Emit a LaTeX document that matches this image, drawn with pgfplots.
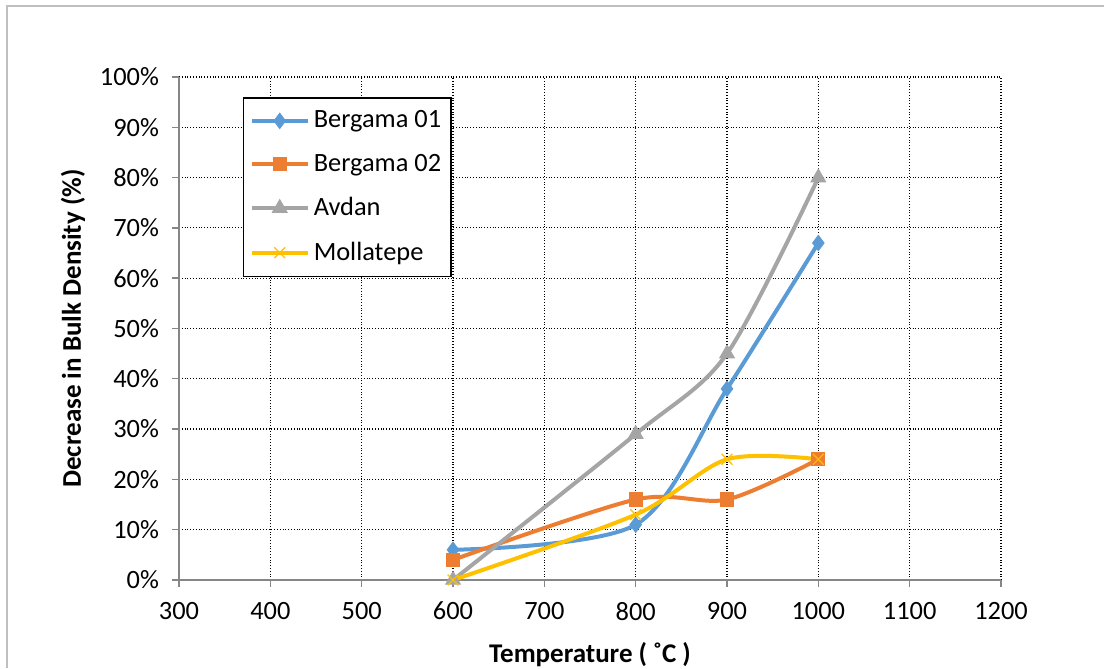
\documentclass[border=0pt]{standalone}
\usepackage{pgfplots}
\pgfplotsset{compat=1.18}
\usepackage{fontspec}
\setmainfont{Carlito}
\definecolor{cblue}{HTML}{5B9BD5}
\definecolor{corange}{HTML}{ED7D31}
\definecolor{cgray}{HTML}{A5A5A5}
\definecolor{cyellow}{HTML}{FFC000}
\definecolor{axgray}{HTML}{868686}
\definecolor{framegray}{HTML}{BFBFBF}
\begin{document}
\begin{tikzpicture}
\begin{axis}[
  scale only axis,
  width=411pt, height=251.5pt,
  xmin=300, xmax=1200, ymin=0, ymax=100,
  xtick={300,400,...,1200}, ytick={0,10,...,100},
  axis x line*=bottom, axis y line*=left,
  axis line style={axgray, line width=0.7pt, -},
  tick style={axgray, line width=0.7pt},
  tick align=outside, major tick length=3.5pt,
  grid=major,
  major grid style={black, densely dotted, line width=0.6pt},
  /pgf/number format/assume math mode=true,
  /pgf/number format/1000 sep={},
  ticklabel style={font=\fontsize{13.2}{15}\selectfont, text=black},
  yticklabel={\pgfmathprintnumber{\tick}\%},
  xticklabel style={yshift=-4pt},
  yticklabel style={xshift=-3pt},
  xlabel={\textbf{Temperature ( ˚C )}},
  ylabel={\textbf{Decrease in Bulk Density (\%)}},
  label style={font=\fontsize{13.5}{15}\selectfont},
  xlabel style={at={(rel axis cs:0.5,-0.149)}, anchor=center},
  ylabel style={at={(rel axis cs:-0.129,0.5)}, anchor=center},
  clip=false,
  legend style={at={(rel axis cs:0.0779,0.960)}, anchor=north west,
    draw=black, line width=0.7pt, font=\fontsize{13.2}{15}\selectfont,
    inner xsep=3pt, inner ysep=4.5pt, row sep=7.6pt, fill=white},
  legend cell align=left,
  legend image code/.code={\draw[mark repeat=2,mark phase=2,#1] plot coordinates {(0pt,0pt) (14pt,0pt) (28pt,0pt)};},
]
\addplot[cblue, line width=2pt, smooth, tension=0.5, mark=diamond*, mark size=3.8pt, mark options={solid, line width=0.5pt, fill=cblue}]
  coordinates {(600,6) (800,11) (900,38) (1000,67)};
\addlegendentry{Bergama 01}
\addplot[corange, line width=2pt, smooth, tension=0.5, mark=square*, mark size=3.3pt, mark options={solid, line width=0.5pt, fill=corange}]
  coordinates {(600,4) (800,16) (900,16) (1000,24)};
\addlegendentry{Bergama 02}
\addplot[cgray, line width=2pt, smooth, tension=0.5, mark=triangle*, mark size=4.2pt, mark options={solid, line width=0.5pt, fill=cgray}]
  coordinates {(600,0) (800,29) (900,45) (1000,80)};
\addlegendentry{Avdan}
\addplot[cyellow, line width=2pt, smooth, tension=0.5, mark=x, mark size=3.8pt, mark options={solid, line width=0.6pt}]
  coordinates {(600,0) (800,13) (900,24) (1000,24)};
\addlegendentry{Mollatepe}
\coordinate (bl) at (rel axis cs:-0.2178,-0.1750);
\coordinate (tr) at (rel axis cs:1.1253,1.1531);
\coordinate (fl) at (rel axis cs:-0.2092,1.1412);
\end{axis}
\draw[framegray, line width=1pt] (fl |- bl) -- (fl) -- (fl -| tr);
\pgfresetboundingbox
\path[use as bounding box] (bl) rectangle (tr);
\end{tikzpicture}
\end{document}
